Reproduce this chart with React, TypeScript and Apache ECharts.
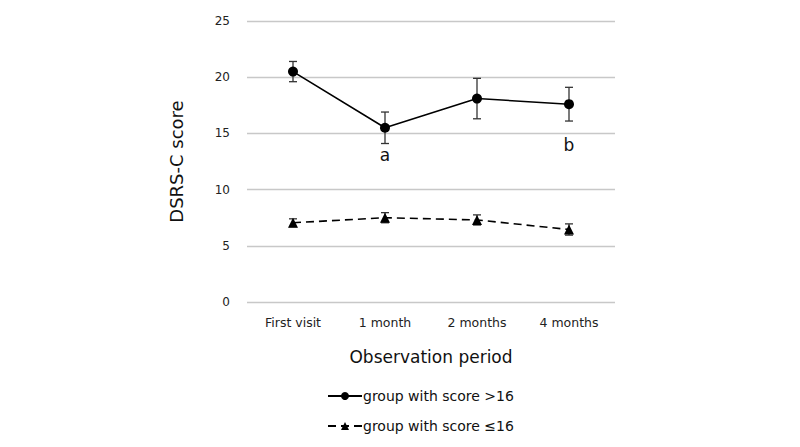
import React, { useEffect, useRef } from "react";
import * as echarts from "echarts";

const categories = ["First visit", "1 month", "2 months", "4 months"];
const highMeans = [20.5, 15.5, 18.1, 17.6];
const highErr = [0.9, 1.4, 1.8, 1.5];
const lowMeans = [7.05, 7.5, 7.3, 6.45];
const lowErr = [0.35, 0.45, 0.45, 0.5];
const annotationCats = ["1 month", "4 months"];
const annotationTexts = ["a", "b"];
const annotationValues = [13.1, 14.0];
const seriesNames = ["group with score >16", "group with score \u226416"];

const FONT = "DejaVu Sans";

function errorSeries(means: number[], errs: number[]) {
  return {
    type: "custom",
    silent: true,
    z: 1,
    data: means.map((m, i) => [i, m - errs[i], m + errs[i]]),
    renderItem: (params: any, api: any) => {
      const x = api.value(0);
      const lo = api.coord([x, api.value(1)]);
      const hi = api.coord([x, api.value(2)]);
      const hw = 4;
      const style = { stroke: "#333", lineWidth: 1.3 };
      return {
        type: "group",
        children: [
          { type: "line", shape: { x1: lo[0], y1: lo[1], x2: hi[0], y2: hi[1] }, style },
          { type: "line", shape: { x1: lo[0] - hw, y1: lo[1], x2: lo[0] + hw, y2: lo[1] }, style },
          { type: "line", shape: { x1: hi[0] - hw, y1: hi[1], x2: hi[0] + hw, y2: hi[1] }, style },
        ],
      };
    },
  };
}

function annotationSeries() {
  return {
    type: "custom",
    silent: true,
    z: 4,
    data: annotationCats.map((c, i) => [categories.indexOf(c), annotationValues[i], annotationTexts[i]]),
    renderItem: (params: any, api: any) => {
      const p = api.coord([api.value(0), api.value(1)]);
      return {
        type: "text",
        x: p[0],
        y: p[1],
        style: {
          text: annotationTexts[params.dataIndex],
          fill: "#111",
          fontSize: 17,
          fontFamily: FONT,
          align: "center",
          verticalAlign: "middle",
        },
      };
    },
  };
}

export default function App() {
  const ref = useRef<HTMLDivElement>(null);
  useEffect(() => {
    const chart = echarts.init(ref.current!, null, { renderer: "svg" });
    chart.setOption({
      animation: false,
      backgroundColor: "#fff",
      textStyle: { fontFamily: FONT },
      grid: { left: 247, right: 185, top: 21, bottom: 145 },
      xAxis: {
        type: "category",
        data: categories,
        axisLine: { show: false },
        axisTick: { show: false },
        axisLabel: { color: "#222", fontSize: 12.5, margin: 14, fontFamily: FONT },
        name: "Observation period",
        nameLocation: "middle",
        nameGap: 46,
        nameTextStyle: { color: "#111", fontSize: 17, fontFamily: FONT },
      },
      yAxis: {
        type: "value",
        min: 0,
        max: 25,
        interval: 5,
        splitLine: { lineStyle: { color: "#c8c8c8", width: 1.3 } },
        axisLabel: { color: "#222", fontSize: 12, margin: 17, fontFamily: FONT },
        name: "DSRS-C score",
        nameLocation: "middle",
        nameGap: 62,
        nameTextStyle: { color: "#111", fontSize: 18, fontFamily: FONT },
      },
      legend: {
        orient: "vertical",
        left: 322,
        top: 384,
        itemGap: 16,
        itemWidth: 34,
        itemHeight: 10,
        data: seriesNames,
        textStyle: { color: "#111", fontSize: 14, fontFamily: FONT, padding: [0, 0, 0, -4] },
      },
      series: [
        errorSeries(highMeans, highErr),
        errorSeries(lowMeans, lowErr),
        {
          name: seriesNames[0],
          type: "line",
          data: highMeans,
          symbol: "circle",
          symbolSize: 10,
          itemStyle: { color: "#000" },
          lineStyle: { color: "#000", width: 1.6 },
          z: 3,
        },
        {
          name: seriesNames[1],
          type: "line",
          data: lowMeans,
          symbol: "triangle",
          symbolSize: 10,
          itemStyle: { color: "#000" },
          lineStyle: { color: "#000", width: 1.6, type: [8, 5] },
          z: 3,
        },
        annotationSeries(),
      ],
    });
    return () => chart.dispose();
  }, []);
  return <div ref={ref} style={{ width: 800, height: 447, position: "absolute", left: 0, top: 0 }} />;
}
